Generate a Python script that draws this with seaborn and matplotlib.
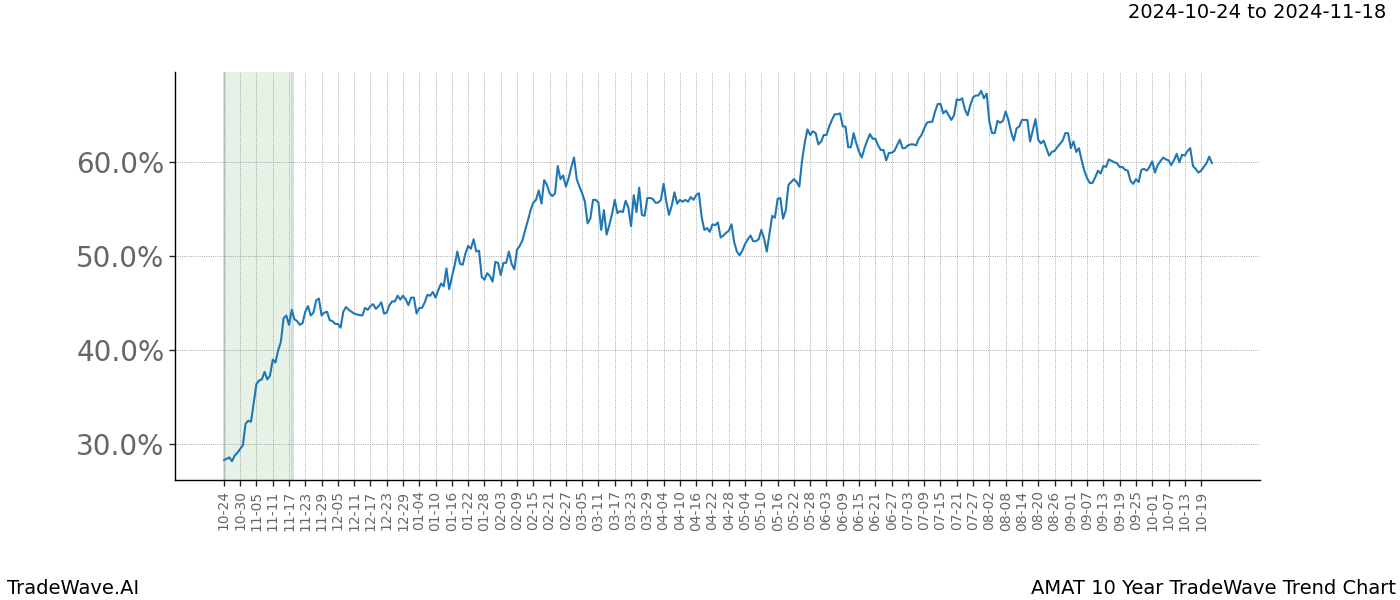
import matplotlib
matplotlib.use("Agg")
import matplotlib.pyplot as plt
import matplotlib.ticker as mticker
import seaborn as sns
import pandas as pd

START = "2024-10-24"
SHADE_START = "2024-10-24"
SHADE_END = "2024-11-18"

# days since START
day_offsets = [
    0, 2, 3, 4, 5, 7, 8, 9, 10, 12, 13, 14, 15, 16, 17, 18, 19, 20, 21, 22,
    23, 24, 25, 26, 27, 28, 29, 30, 31, 32, 33, 34, 35, 36, 37, 38, 39, 40, 41, 42,
    43, 44, 45, 46, 48, 49, 51, 52, 53, 54, 55, 56, 57, 58, 59, 60, 61, 62, 63, 64,
    65, 66, 67, 68, 69, 70, 71, 72, 73, 74, 75, 76, 77, 78, 79, 80, 81, 82, 83, 84,
    85, 86, 87, 88, 89, 90, 91, 92, 93, 94, 95, 96, 97, 98, 99, 100, 101, 102, 103, 104,
    105, 106, 107, 108, 109, 110, 111, 112, 113, 114, 115, 116, 117, 118, 119, 120, 121, 122, 123, 124,
    125, 126, 127, 128, 129, 130, 131, 132, 133, 134, 135, 136, 137, 138, 139, 140, 141, 142, 143, 144,
    145, 146, 147, 148, 149, 150, 151, 152, 153, 154, 155, 156, 157, 158, 159, 160, 161, 162, 163, 164,
    165, 166, 167, 168, 169, 170, 171, 172, 173, 174, 175, 176, 177, 178, 179, 180, 181, 182, 183, 184,
    185, 186, 187, 188, 189, 190, 191, 192, 193, 194, 195, 196, 197, 198, 199, 200, 201, 202, 203, 204,
    205, 206, 207, 208, 209, 210, 211, 212, 213, 214, 215, 216, 217, 218, 219, 220, 221, 222, 223, 224,
    225, 226, 227, 228, 229, 230, 231, 232, 233, 234, 235, 236, 237, 238, 239, 240, 241, 242, 243, 244,
    245, 246, 247, 248, 249, 250, 251, 252, 253, 254, 255, 256, 257, 258, 259, 260, 261, 262, 263, 264,
    265, 266, 267, 268, 269, 270, 271, 272, 273, 274, 275, 276, 277, 278, 279, 280, 281, 282, 283, 284,
    285, 286, 287, 288, 289, 290, 291, 292, 293, 294, 295, 296, 297, 298, 299, 300, 301, 302, 303, 304,
    305, 306, 307, 309, 310, 311, 312, 313, 314, 315, 316, 317, 318, 319, 320, 321, 322, 323, 324, 325,
    326, 328, 329, 330, 331, 332, 333, 334, 335, 336, 337, 338, 339, 340, 341, 342, 343, 344, 345, 346,
    347, 348, 349, 350, 351, 352, 353, 354, 355, 356, 357, 358, 359, 360, 361, 362, 363, 364,
]

# trend value in percent
values = [
    28.3, 28.6, 28.2, 28.8, 29.1, 29.9, 32.2, 32.5, 32.4, 36.4, 36.8, 36.9, 37.7, 36.9, 37.3, 39.0, 38.7, 40.0, 40.9, 43.4,
    43.7, 42.7, 44.3, 43.3, 43.1, 42.7, 42.9, 44.1, 44.7, 43.7, 44.0, 45.3, 45.5, 43.7, 44.0, 44.1, 43.2, 43.1, 42.8, 42.8,
    42.4, 44.1, 44.6, 44.3, 43.9, 43.8, 43.7, 44.5, 44.3, 44.7, 44.9, 44.4, 44.7, 45.1, 43.9, 44.0, 44.8, 45.2, 45.2, 45.8,
    45.4, 45.8, 45.4, 44.8, 45.6, 45.6, 43.9, 44.5, 44.5, 45.1, 45.9, 45.8, 46.2, 45.6, 46.4, 47.1, 46.8, 48.7, 46.5, 47.8,
    49.0, 50.5, 49.2, 49.1, 50.3, 51.1, 50.8, 51.8, 50.5, 50.6, 47.8, 47.5, 48.2, 47.9, 47.3, 49.4, 49.3, 48.0, 49.3, 49.3,
    50.5, 49.2, 48.6, 50.7, 51.1, 51.7, 52.8, 53.8, 54.9, 55.7, 56.0, 57.0, 55.6, 58.1, 57.6, 56.7, 56.4, 56.7, 59.6, 58.2,
    58.6, 57.4, 58.3, 59.5, 60.5, 58.2, 57.4, 56.7, 55.8, 53.5, 54.0, 56.0, 56.0, 55.7, 52.8, 54.9, 52.3, 53.3, 54.5, 56.0,
    54.6, 54.8, 54.7, 55.9, 55.2, 53.2, 56.5, 54.7, 57.3, 54.4, 54.3, 56.2, 56.2, 56.1, 55.7, 55.7, 56.0, 57.7, 55.8, 54.4,
    55.4, 56.8, 55.6, 56.0, 55.8, 56.0, 55.8, 56.3, 56.0, 56.5, 56.7, 54.2, 52.8, 53.0, 52.6, 53.4, 53.3, 53.6, 52.0, 52.2,
    52.5, 52.7, 53.4, 51.5, 50.5, 50.1, 50.6, 51.3, 51.8, 52.2, 51.6, 51.6, 51.8, 52.8, 51.9, 50.5, 52.4, 54.3, 54.1, 56.1,
    56.2, 54.0, 54.9, 57.6, 57.9, 58.2, 57.9, 57.4, 60.2, 62.1, 63.5, 62.9, 63.3, 63.1, 61.9, 62.2, 62.9, 62.9, 63.8, 64.5,
    65.1, 65.1, 65.2, 63.8, 63.8, 61.6, 61.6, 63.1, 62.0, 61.1, 60.5, 61.5, 62.3, 63.0, 62.5, 62.5, 61.8, 61.3, 61.3, 60.2,
    61.0, 61.0, 61.2, 61.8, 62.4, 61.5, 61.5, 61.8, 61.9, 61.9, 61.8, 62.5, 62.9, 63.6, 64.2, 64.3, 64.3, 65.4, 66.2, 66.2,
    65.2, 65.5, 65.0, 64.5, 65.0, 66.7, 66.6, 66.8, 65.6, 65.0, 66.1, 66.9, 67.1, 67.1, 67.6, 66.8, 67.3, 64.3, 63.1, 63.1,
    64.4, 64.2, 64.4, 65.4, 64.5, 63.2, 62.3, 63.6, 63.8, 64.5, 64.5, 64.5, 62.2, 63.4, 64.6, 62.4, 62.0, 62.3, 61.5, 60.7,
    61.1, 61.2, 61.6, 62.3, 63.1, 63.1, 61.5, 62.2, 61.1, 61.5, 60.2, 59.1, 58.3, 57.8, 57.8, 58.4, 59.1, 58.8, 59.6, 59.5,
    60.3, 60.0, 59.9, 59.5, 59.5, 59.2, 59.1, 58.0, 57.7, 58.2, 57.9, 59.2, 59.3, 59.1, 59.5, 60.1, 58.9, 59.7, 60.1, 60.5,
    60.3, 60.2, 59.7, 60.2, 60.9, 60.0, 60.8, 60.7, 61.2, 61.5, 59.6, 59.3, 58.9, 59.1, 59.5, 59.9, 60.6, 59.9,
]

tick_labels = [
    "10-24", "10-30", "11-05", "11-11", "11-17", "11-23", "11-29", "12-05", "12-11", "12-17",
    "12-23", "12-29", "01-04", "01-10", "01-16", "01-22", "01-28", "02-03", "02-09", "02-15",
    "02-21", "02-27", "03-05", "03-11", "03-17", "03-23", "03-29", "04-04", "04-10", "04-16",
    "04-22", "04-28", "05-04", "05-10", "05-16", "05-22", "05-28", "06-03", "06-09", "06-15",
    "06-21", "06-27", "07-03", "07-09", "07-15", "07-21", "07-27", "08-02", "08-08", "08-14",
    "08-20", "08-26", "09-01", "09-07", "09-13", "09-19", "09-25", "10-01", "10-07", "10-13",
    "10-19",
]
tick_years = [2024] * 12 + [2025] * 49

ytick_values = [30, 40, 50, 60]

start = pd.Timestamp(START)
df = pd.DataFrame({
    "date": start + pd.to_timedelta(day_offsets, unit="D"),
    "value": values,
})
tick_dates = [pd.Timestamp(f"{y}-{t}") for y, t in zip(tick_years, tick_labels)]

sns.set_style("white")
plt.rcParams["font.family"] = ["DejaVu Sans"]
plt.rcParams["text.color"] = "black"

fig, ax = plt.subplots(figsize=(14, 6), dpi=100)
fig.subplots_adjust(left=0.125, right=0.9, top=0.88, bottom=0.2)

ax.axvspan(pd.Timestamp(SHADE_START), pd.Timestamp(SHADE_END),
           facecolor="green", alpha=0.1, edgecolor="none", zorder=0)
for d in (SHADE_START, SHADE_END):
    ax.axvline(pd.Timestamp(d), color="#c8ccc8", linewidth=2, alpha=0.7, zorder=0.5)

sns.lineplot(data=df, x="date", y="value", ax=ax, color="#1f77b4", linewidth=1.5, zorder=3)

ax.set_xticks(tick_dates)
ax.set_xticklabels(tick_labels, rotation=90, fontsize=10, color="#666666")
ax.set_xlim(start - pd.Timedelta(days=18), start + pd.Timedelta(days=381.7))
ax.set_ylim(26.2, 69.6)
ax.set_yticks(ytick_values)
ax.yaxis.set_major_formatter(mticker.FuncFormatter(lambda v, p: f"{v:.1f}%"))
ax.tick_params(axis="y", labelsize=20, labelcolor="#666666", length=4, width=1, left=True)
ax.tick_params(axis="x", length=4, width=1, bottom=True)
ax.set_xlabel("")
ax.set_ylabel("")

ax.grid(True, which="major", axis="both", color="gray", linestyle=":", linewidth=0.6, alpha=0.9)
sns.despine(ax=ax, top=True, right=True)
for s in ("left", "bottom"):
    ax.spines[s].set_color("black")
    ax.spines[s].set_linewidth(1)

footer_y = 1 - 588 / 600
fig.text(0.99, 0.995, f"{SHADE_START} to {SHADE_END}", ha="right", va="top", fontsize=14, color="black")
fig.text(0.005, footer_y, "TradeWave.AI", ha="left", va="center", fontsize=14, color="black")
fig.text(0.997, footer_y, "AMAT 10 Year TradeWave Trend Chart", ha="right", va="center", fontsize=14, color="black")

fig.savefig("out.png", dpi=100)
